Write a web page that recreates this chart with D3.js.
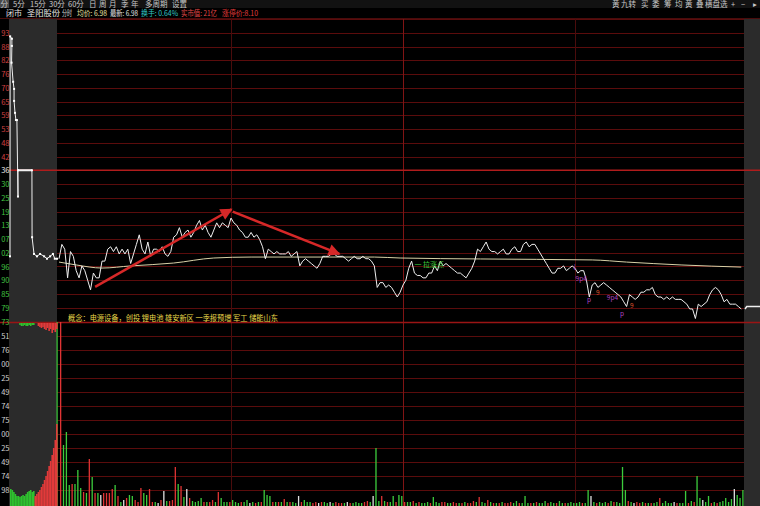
<!DOCTYPE html>
<html>
<head>
<meta charset="UTF-8">
<script src="https://cdn.jsdelivr.net/npm/d3@7/dist/d3.min.js"></script>
<style>
body { margin: 0; background: #000; }
svg { display: block; }
text { font-family: "Noto Sans CJK SC", "DejaVu Sans", sans-serif; }
</style>
</head>
<body>
<script>
var width = 760, height = 506;

// axis
var prevClose = 7.36, priceStep = 0.0575;
var priceTickLabels = ["93","88","82","76","70","65","59","53","48","42","36","30","25","19","13","07","02","96","90","85","79","73"];
var volStep = 140;
var volTickLabels = ["51","76","00","25","49","74","75","00","25","49","74","98"];

// minute prices, 9:30 onwards
var prices = [6.99,7.05,7.03,6.91,7.02,7.00,6.94,6.91,6.96,6.94,6.90,6.86,6.93,6.91,6.91,6.98,6.98,7.03,7.04,7.02,
  7.04,7.01,7.03,7.01,7.03,6.97,7.01,7.05,7.09,7.03,7.01,7.06,7.00,7.03,7.03,7.02,7.04,7.01,7.00,7.02,
  7.08,7.09,7.12,7.08,7.10,7.11,7.08,7.10,7.13,7.15,7.11,7.13,7.10,7.08,7.11,7.14,7.12,7.14,7.13,7.12,
  7.16,7.14,7.13,7.11,7.10,7.08,7.08,7.10,7.08,7.09,7.07,7.04,6.99,7.03,7.02,7.01,7.02,7.01,7.01,7.01,
  7.02,7.00,7.01,7.02,6.96,6.98,6.99,6.98,6.97,6.96,6.95,6.97,7.00,7.00,7.00,7.01,7.01,7.00,7.00,7.00,
  6.99,6.98,6.99,7.00,6.99,6.99,7.00,6.99,6.99,6.98,6.96,6.87,6.89,6.89,6.87,6.88,6.87,6.85,6.83,6.85,
  6.88,6.90,6.95,6.98,6.93,6.92,6.92,6.91,6.91,6.93,6.93,6.96,6.94,6.98,6.96,6.97,6.96,6.95,6.94,6.93,
  6.93,6.92,6.91,6.93,6.95,6.98,7.03,7.02,7.04,7.06,7.03,7.02,7.02,7.01,7.02,7.03,7.01,7.01,7.03,7.04,
  7.02,7.02,7.05,7.06,7.04,7.05,7.05,7.03,7.01,6.99,6.97,6.95,6.93,6.93,6.95,6.95,6.96,6.94,6.95,6.96,
  6.95,6.93,6.94,6.94,6.90,6.83,6.88,6.89,6.87,6.88,6.89,6.88,6.87,6.86,6.85,6.84,6.83,6.81,6.79,6.84,
  6.83,6.82,6.83,6.85,6.85,6.86,6.86,6.87,6.84,6.83,6.83,6.82,6.83,6.82,6.83,6.82,6.82,6.82,6.81,6.80,
  6.78,6.78,6.74,6.80,6.79,6.80,6.81,6.84,6.86,6.87,6.86,6.84,6.81,6.82,6.80,6.80,6.80,6.79,6.78];

// average price line, read at these minutes
var avgMinutes = [0, 6, 15, 25, 40, 54, 67, 75, 110, 119, 147, 186, 198, 217, 238];
var avgPrices = [6.976, 6.964, 6.951, 6.960, 6.972, 6.993, 6.997, 6.997, 6.997, 6.993, 6.989, 6.985, 6.976, 6.964, 6.955];

// minute volume and bar colour (r up, g down, w flat)
var volumes = [2500,590,720,190,200,200,340,160,120,110,450,270,110,110,90,110,110,110,150,190,
  80,20,40,60,90,80,40,20,160,110,90,150,20,20,10,40,130,30,30,40,
  370,200,180,70,150,60,30,20,30,60,20,20,20,40,20,120,60,20,20,20,
  40,20,10,20,20,40,10,20,10,20,20,140,90,80,20,20,20,20,50,20,
  20,20,10,80,20,40,20,20,10,20,10,20,20,10,20,10,20,10,10,10,
  20,10,10,20,10,10,20,30,20,80,560,30,80,30,20,20,80,20,90,80,
  20,20,20,30,10,20,10,10,20,10,70,20,10,20,20,10,10,20,10,10,
  10,20,10,10,30,20,70,20,10,40,20,10,10,10,20,10,10,20,10,30,
  10,10,80,10,10,10,20,10,10,30,10,20,10,10,30,10,10,10,20,10,
  10,20,10,10,140,80,20,10,20,10,20,10,30,20,20,10,370,140,30,20,
  10,20,10,20,10,10,10,10,20,60,10,30,10,10,20,10,10,10,130,10,
  30,20,280,60,40,20,80,10,20,10,20,30,60,20,50,150,90,60,140];
var volColors = "rgggrgggrgrgrgwrrrrgrgwrggrrrggrrgwrwgrrr" +
  "grgwrggggrgrrgrgggrgggrggwgrgrgggrgrgrgrg" +
  "gwrgggrrwrggwgrrrgwrggggrrgwggrgrggrggrg" +
  "grgrgggrgggrrggrrgrgrrrgrggrgrgrgrrrggrg" +
  "ggrgrgggrggrggrgggggrggwgrgggrgrggggrgwrrgrgrggrggggwrgggrgrggwggrgrgggggwggg";

// call auction (9:15 - 9:30) price trail and volume
var auctionMin = [0, 0.05, 0.6, 0.6, 0.5, 1.0, 1.3, 1.3, 1.6, 1.9, 2.2, 2.55, 2.55, 7.0, 7.05, 7.66, 8.6, 9.6, 10.9, 11.8, 12.8, 13.7, 14.3, 15];
var auctionPrices = [7.00, 7.92, 7.91, 7.88, 7.81, 7.73, 7.70, 7.65, 7.60, 7.57, 7.57, 7.25, 7.36, 7.36, 7.08, 7.01, 7.00, 7.01, 7.00, 6.99, 7.00, 7.01, 6.99, 6.99];
var auctionVol = [150,140,120,100,80,80,70,80,90,80,100,120,130,140,120,130,
  80,100,120,140,170,200,240,280,330,380,430,490,560,640,800];
var auctionOpen = [0,0,0,0,0,0,-20,-30,-30,-20,-30,-30,-20,-30,-20,-20,
  0,0,30,40,50,40,60,70,50,80,60,100,70,90,60];

// after-hours trail
var postMin = [0, 0.6, 5];
var postPrices = [6.78, 6.79, 6.79];

// trend arrows, drawn by hand on the chart: [minute, price]
var arrowFrom = [[12.6, 6.872], [60.6, 7.187]];
var arrowTo = [[60.2, 7.197], [97.8, 7.010]];

// signal marks near the close: minute, price, text, kind
var markMin = [178.8, 180.2, 184.2, 187.3, 191.1, 195.7, 199.2];
var markPrice = [6.945, 6.897, 6.809, 6.838, 6.817, 6.750, 6.784];
var markText = ["↓", "9p4", "p", "9", "9p4", "p", "9"];
var markKind = ["p", "p", "p", "o", "p", "p", "o"];

var conceptText = "概念：电源设备，创投  锂电池  雄安新区  一季报预增  军工  储能山东";

var x = d3.scaleLinear().domain([0, 240]).range([59, 747]);
var y = d3.scaleLinear()
    .domain([prevClose - 11 * priceStep, prevClose + 11 * priceStep])
    .range([321.5, 19]);
var yv = d3.scaleLinear().domain([0, 13 * volStep]).range([504, 322]).clamp(true);
var xa = d3.scaleLinear().domain([0, 15]).range([10, 57]);
var xab = d3.scaleLinear().domain([0, 30]).range([10, 56]);
var xp = d3.scaleLinear().domain([0, 5]).range([745, 760]);

var svg = d3.select("body").append("svg")
    .attr("width", width)
    .attr("height", height);

svg.append("rect").attr("width", width).attr("height", height).attr("fill", "#000");

// header bar
svg.append("rect").attr("width", width).attr("height", 8).attr("fill", "#121212");
svg.append("rect").attr("x", 0).attr("y", 0).attr("width", 9).attr("height", 8).attr("fill", "#4a4a4a");

// side panels
svg.append("rect").attr("x", 9).attr("y", 19).attr("width", 48).attr("height", height - 19).attr("fill", "#2b2b2b");
svg.append("rect").attr("x", 744).attr("y", 19).attr("width", 16).attr("height", height - 19).attr("fill", "#2b2b2b");

var grid = svg.append("g");

var priceTicks = d3.range(1, 23).map(function(k) { return prevClose + (11 - k) * priceStep; });

grid.selectAll(".hg")
    .data([prevClose + 11 * priceStep].concat(priceTicks.filter(function(d, i) { return i !== 10 && i !== 21; })))
  .enter().append("line")
    .attr("x1", 57).attr("x2", 744)
    .attr("y1", function(d) { return Math.round(y(d)) + 0.5; })
    .attr("y2", function(d) { return Math.round(y(d)) + 0.5; })
    .attr("stroke", "#5a0c0c");

var volTicks = d3.range(1, 13).map(function(k) { return k * volStep; });
grid.selectAll(".vg")
    .data(volTicks)
  .enter().append("line")
    .attr("x1", 57).attr("x2", 744)
    .attr("y1", function(d) { return Math.round(yv(d)) + 0.5; })
    .attr("y2", function(d) { return Math.round(yv(d)) + 0.5; })
    .attr("stroke", "#5a0c0c");

// hour lines
grid.selectAll(".vl")
    .data([60, 120, 180])
  .enter().append("line")
    .attr("x1", function(d) { return Math.round(x(d)) + 0.5; })
    .attr("x2", function(d) { return Math.round(x(d)) + 0.5; })
    .attr("y1", 19).attr("y2", height)
    .attr("stroke", function(d) { return d === 120 ? "#801414" : "#4a0c0c"; });

// previous close and panel separator
grid.append("line")
    .attr("x1", 9).attr("x2", width)
    .attr("y1", y(prevClose)).attr("y2", y(prevClose))
    .attr("stroke", "#b01c1c").attr("stroke-width", 1.5);
grid.append("line")
    .attr("x1", 0).attr("x2", width)
    .attr("y1", 322.5).attr("y2", 322.5)
    .attr("stroke", "#9a1414").attr("stroke-width", 1.5);
grid.append("line")
    .attr("x1", 0).attr("x2", width)
    .attr("y1", 18.5).attr("y2", 18.5)
    .attr("stroke", "#4a0c0c");

var colorOf = { r: "#e03434", g: "#3ccc3c", w: "#e0e0e0" };

// volume bars
svg.append("g").selectAll("rect")
    .data(volumes)
  .enter().append("rect")
    .attr("x", function(d, i) { return x(i) + 1; })
    .attr("width", 1.3)
    .attr("y", function(d) { return yv(d); })
    .attr("height", function(d) { return yv(0) - yv(d) + 2; })
    .attr("fill", function(d, i) { return colorOf[volColors[i]]; });

// opening auction bar at the panel edge
svg.append("rect")
    .attr("x", 56.5).attr("width", 1.2)
    .attr("y", yv(13 * volStep)).attr("height", height - 322)
    .attr("fill", "#3ccc3c");

// auction volume
svg.append("g").selectAll("rect")
    .data(auctionVol)
  .enter().append("rect")
    .attr("x", function(d, i) { return xab(i); })
    .attr("width", 1.6)
    .attr("y", function(d) { return yv(d); })
    .attr("height", function(d) { return yv(0) - yv(d) + 2; })
    .attr("fill", function(d, i) { return i < 16 ? "#2fc02f" : "#e23a3a"; });

svg.append("g").selectAll("rect")
    .data(auctionOpen)
  .enter().append("rect")
    .attr("x", function(d, i) { return xab(i); })
    .attr("width", 1.6)
    .attr("y", 323)
    .attr("height", function(d) { return Math.abs(d) / 10; })
    .attr("fill", function(d) { return d < 0 ? "#2fc02f" : "#e23a3a"; });

// average line
svg.append("path")
    .datum(avgMinutes)
    .attr("fill", "none")
    .attr("stroke", "#d8d2a8")
    .attr("stroke-width", 1)
    .attr("d", d3.line()
        .x(function(d) { return x(d); })
        .y(function(d, i) { return y(avgPrices[i]); })
        .curve(d3.curveMonotoneX));

// price line
svg.append("path")
    .datum(prices)
    .attr("fill", "none")
    .attr("stroke", "#f0f0f0")
    .attr("stroke-width", 1)
    .attr("d", d3.line()
        .x(function(d, i) { return x(i); })
        .y(function(d) { return y(d); }));

// auction trail
var auctionLine = d3.line()
    .x(function(d) { return xa(d); })
    .y(function(d, i) { return y(auctionPrices[i]); });
svg.append("path")
    .datum(auctionMin)
    .attr("fill", "none")
    .attr("stroke", "#f0f0f0")
    .attr("stroke-width", 1)
    .attr("d", auctionLine);
svg.append("line")
    .attr("x1", xa(2.55)).attr("x2", xa(7.0))
    .attr("y1", y(7.36)).attr("y2", y(7.36))
    .attr("stroke", "#f0f0f0").attr("stroke-width", 2);
svg.append("g").selectAll("rect")
    .data(auctionMin)
  .enter().append("rect")
    .attr("x", function(d) { return xa(d) - 1; })
    .attr("y", function(d, i) { return y(auctionPrices[i]) - 1; })
    .attr("width", 2).attr("height", 2)
    .attr("fill", "#fff");

// after hours
svg.append("path")
    .datum(postMin)
    .attr("fill", "none")
    .attr("stroke", "#f0f0f0")
    .attr("stroke-width", 1.5)
    .attr("d", d3.line()
        .x(function(d) { return xp(d); })
        .y(function(d, i) { return y(postPrices[i]); }));

// arrows
var defs = svg.append("defs");
defs.append("marker")
    .attr("id", "head")
    .attr("viewBox", "0 0 10 10")
    .attr("refX", 9).attr("refY", 5)
    .attr("markerUnits", "userSpaceOnUse")
    .attr("markerWidth", 14).attr("markerHeight", 12)
    .attr("orient", "auto")
  .append("path")
    .attr("d", "M0,0L10,5L0,10z")
    .attr("fill", "#d62828");

svg.append("g").selectAll("line")
    .data(arrowFrom)
  .enter().append("line")
    .attr("x1", function(d) { return x(d[0]); })
    .attr("y1", function(d) { return y(d[1]); })
    .attr("x2", function(d, i) { return x(arrowTo[i][0]); })
    .attr("y2", function(d, i) { return y(arrowTo[i][1]); })
    .attr("stroke", "#d62828")
    .attr("stroke-width", 2.5)
    .attr("marker-end", "url(#head)");

// signal marks
svg.append("g").selectAll("text")
    .data(markText)
  .enter().append("text")
    .attr("x", function(d, i) { return x(markMin[i]); })
    .attr("y", function(d, i) { return y(markPrice[i]); })
    .attr("font-size", 6.5)
    .attr("fill", function(d, i) { return markKind[i] === "o" ? "#e05a30" : "#b446c8"; })
    .text(function(d) { return d; });

svg.append("text")
    .attr("x", x(124)).attr("y", y(6.955))
    .attr("font-size", 7).attr("fill", "#3ccc3c")
    .text("一 拉涨点");

svg.append("text")
    .attr("x", 68).attr("y", 320.5)
    .attr("font-size", 7.5).attr("fill", "#e8d84a")
    .attr("textLength", 210).attr("lengthAdjust", "spacingAndGlyphs")
    .text(conceptText);

// left axis labels
var axisG = svg.append("g").attr("font-size", 7.5).attr("text-anchor", "end");
axisG.selectAll(".pl")
    .data(priceTicks)
  .enter().append("text")
    .attr("x", 9.5)
    .attr("y", function(d) { return y(d) + 3; })
    .attr("fill", function(d, i) { return i < 10 ? "#d04040" : i === 10 ? "#e8e8e8" : "#40c040"; })
    .text(function(d, i) { return priceTickLabels[i]; });
axisG.selectAll(".vl")
    .data(volTicks)
  .enter().append("text")
    .attr("x", 9.5)
    .attr("y", function(d) { return yv(d) + 3; })
    .attr("fill", "#d0d0d0")
    .text(function(d, i) { return volTickLabels[11 - i]; });

// header texts
var topLeft = ["分","5分","15分","30分","60分","日","周","月","季","年","多周期","设置"];
var topLeftX = [0.5, 13, 30, 49, 68, 89, 99, 109, 121, 131, 145, 172];
svg.append("g").selectAll("text")
    .data(topLeft)
  .enter().append("text")
    .attr("x", function(d, i) { return topLeftX[i]; })
    .attr("y", 6.5)
    .attr("font-size", 7.5)
    .attr("fill", "#c8c8c8")
    .text(function(d) { return d; });

var topRight = ["黄","九转","买","委","筹","均","黄","叠","横盘选","+","−","▸"];
var topRightX = [612, 621, 641, 652, 664, 675, 685, 696, 705, 731, 741, 753];
svg.append("g").selectAll("text")
    .data(topRight)
  .enter().append("text")
    .attr("x", function(d, i) { return topRightX[i]; })
    .attr("y", 6.5)
    .attr("font-size", 7.5)
    .attr("fill", "#c8c8c8")
    .text(function(d) { return d; });

var info = ["闭市", "圣阳股份", "分时", "均价: 6.98", "最新: 6.98", "换手: 0.64%", "实市值: 21亿", "涨停价:8.10"];
var infoX = [6, 27, 62, 77, 110, 141, 181, 222];
var infoW = [16, 33, 10, 30, 28, 37, 36, 36];
var infoColor = ["#e0e0e0", "#e8e8e8", "#d8d8d8", "#e8e0a0", "#e0e0e0", "#30c8c8", "#e04848", "#e03c3c"];
svg.append("g").selectAll("text")
    .data(info)
  .enter().append("text")
    .attr("x", function(d, i) { return infoX[i]; })
    .attr("y", 16)
    .attr("font-size", 7.5)
    .attr("textLength", function(d, i) { return infoW[i]; })
    .attr("lengthAdjust", "spacingAndGlyphs")
    .attr("fill", function(d, i) { return infoColor[i]; })
    .text(function(d) { return d; });
</script>
</body>
</html>
